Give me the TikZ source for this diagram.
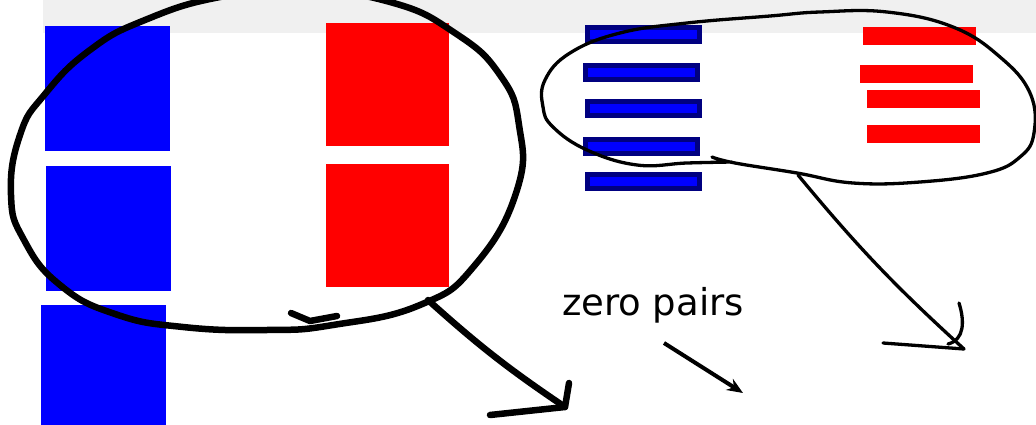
\documentclass[tikz,border=0pt]{standalone}
\usepackage{fontspec}
\newfontfamily\handfont{DejaVu Sans}
\usetikzlibrary{arrows.meta}

\begin{document}
\begin{tikzpicture}[
        x=1pt, y=-1pt,
        every node/.style={inner sep=0, outer sep=0},
        bluesq/.style={rectangle, fill=blue, minimum width=125pt, minimum height=125pt},
        redsq/.style={rectangle, fill=red, minimum width=123pt, minimum height=123pt},
        bluebar/.style={rectangle, fill=blue, draw=blue!50!black, line width=5pt, minimum width=112pt, minimum height=14pt},
        redbar/.style={rectangle, fill=red, minimum width=113pt, minimum height=18pt},
        bigloop/.style={line width=6.5pt, line cap=round, line join=round},
        thinloop/.style={line width=3.3pt, line cap=round, line join=round},
        pointer/.style={-{Stealth[length=16pt, width=13pt]}, line width=4pt}
    ]
%
    \useasboundingbox (0,0) rectangle (1036,425);
    \clip (0,0) rectangle (1036,425);
%
    % Grey band
    \fill[black!6] (43,0) rectangle (1036,33);
%
    % Big tiles
    \node[bluesq] (b1) at (107.5,88.5) {};
    \node[bluesq] (b2) at (108.5,228.5) {};
    \node[bluesq] (b3) at (103.5,367.5) {};
    \node[redsq] (r1) at (387.5,84.5) {};
    \node[redsq] (r2) at (387.5,225.5) {};
%
    % Small bars
    \node[bluebar] (bb1) at (643.5,34.5) {};
    \node[bluebar] (bb2) at (641.5,73) {};
    \node[bluebar] (bb3) at (643.5,108.5) {};
    \node[bluebar] (bb4) at (641.5,146.5) {};
    \node[bluebar] (bb5) at (643.5,181.5) {};
    \node[redbar] (rb1) at (919.5,36) {};
    \node[redbar] (rb2) at (916.5,74) {};
    \node[redbar] (rb3) at (923,99) {};
    \node[redbar] (rb4) at (923,134) {};
%
    % Loop round the big tiles
    \draw[bigloop] plot[smooth cycle, tension=0.8] coordinates {
        (333,325) (267,330) (183,327) (115,314) (60,285)
        (24,240) (11,195) (20,135) (45,94) (90,50) (145,20) (220,-3) (300,-10)
        (390,2) (455,33) (500,75) (519,125) (517,190)
        (475,265) (420,305)};
    \draw[bigloop] (291,313) -- (310,321) -- (337,316);
%
    % Loop round the bars
    \draw[thinloop] plot[smooth, tension=0.7] coordinates {
        (712,157) (735,163) (797,173) (853,183) (920,182) (987,173) (1020,157)
        (1034,133) (1030,93) (1000,57) (953,27) (887,12) (820,12) (770,16)
        (687,23) (620,33) (570,53) (545,80) (543,107) (553,127) (587,150)
        (637,165) (687,163) (732,162)};
%
    % Arrow out of the big loop
    \coordinate (bigtail) at (428,300);
    \coordinate (bigtip) at (565,407);
    \draw[bigloop] (bigtail) to[bend right=4] (bigtip);
    \draw[bigloop] (490,415) -- (bigtip) -- (569,383);
%
    % Arrow out of the thin loop
    \coordinate (thintail) at (798,175);
    \coordinate (thintip) at (964,349);
    \draw[thinloop] (thintail) to[bend right=4] (thintip);
    \draw[thinloop] (883,343) -- (thintip);
    \draw[thinloop] (959,303) .. controls (965,322) and (964,340) .. (948,344);
%
    % Label
    \node[anchor=base west, font=\handfont\fontsize{37}{44}\selectfont] (zp) at (562,315) {zero pairs};
    \coordinate (zpfrom) at (664,343);
    \coordinate (zpto) at (743,393);
    \draw[pointer] (zpfrom) -- (zpto);
%
\end{tikzpicture}
\end{document}
